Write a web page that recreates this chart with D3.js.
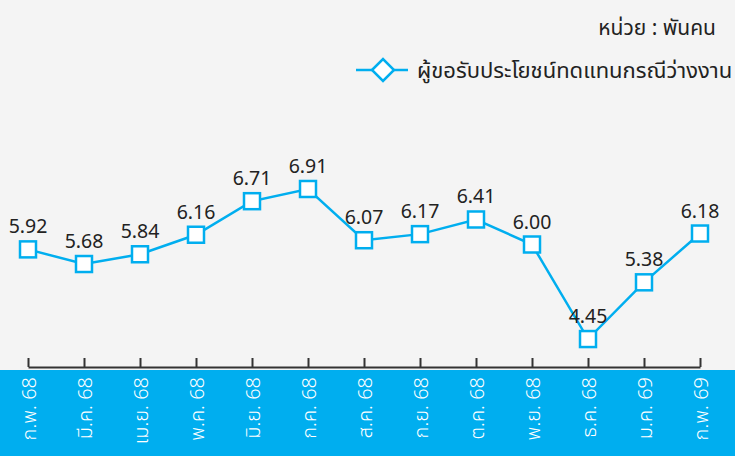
<!DOCTYPE html>
<html>
<head>
<meta charset="utf-8">
<script src="https://cdn.jsdelivr.net/npm/d3@7"></script>
<style>
  body { margin: 0; background: #f4f4f4; }
  #chart { width: 735px; height: 456px; }
</style>
</head>
<body>
<div id="chart"></div>
<script>
// data
var months = ["ก.พ. 68", "มี.ค. 68", "เม.ย. 68", "พ.ค. 68", "มิ.ย. 68", "ก.ค. 68", "ส.ค. 68",
  "ก.ย. 68", "ต.ค. 68", "พ.ย. 68", "ธ.ค. 68", "ม.ค. 69", "ก.พ. 69"];
var claimants = [5.92, 5.68, 5.84, 6.16, 6.71, 6.91, 6.07, 6.17, 6.41, 6.00, 4.45, 5.38, 6.18];
var seriesName = "ผู้ขอรับประโยชน์ทดแทนกรณีว่างงาน";
var unitLabel = "หน่วย : พันคน";

var width = 735;
var height = 456;
var blue = "#00aeef";
var font = "'Noto Sans Thai', 'Noto Sans', 'DejaVu Sans', sans-serif";

var svg = d3
  .select("#chart")
  .append("svg")
  .attr("width", width)
  .attr("height", height)
  .style("font-family", font);

svg.append("rect").attr("width", width).attr("height", height).attr("fill", "#f4f4f4");

// blue band under the axis
svg.append("rect")
  .attr("x", 0)
  .attr("y", 370)
  .attr("width", width)
  .attr("height", height - 370)
  .attr("fill", blue);

var xscale = d3.scalePoint().domain(months).range([28, 700]);
var yscale = d3.scaleLinear().domain([4, 7]).range([366.5, 183.5]);

// x axis
var xaxis = d3.axisBottom(xscale).tickSizeInner(-9).tickSizeOuter(0).tickPadding(12);

var gx = svg.append("g")
  .attr("transform", "translate(0,367)")
  .call(xaxis);

gx.select(".domain").attr("stroke", "#333").attr("stroke-width", 2);
gx.selectAll(".tick line").attr("stroke", "#333").attr("stroke-width", 2);
gx.selectAll(".tick text")
  .attr("fill", "#fff")
  .style("font-size", "20px")
  .style("font-weight", "300")
  .style("font-family", font)
  .attr("text-anchor", "end")
  .attr("transform", "rotate(-90)")
  .attr("x", -10)
  .attr("y", 0)
  .attr("dy", "0.35em");

// line
var line = d3.line()
  .x(function (d, i) { return xscale(months[i]); })
  .y(function (d) { return yscale(d); });

svg.append("path")
  .datum(claimants)
  .attr("d", line)
  .attr("fill", "none")
  .attr("stroke", blue)
  .attr("stroke-width", 2.5);

// markers
svg.selectAll(".marker")
  .data(claimants)
  .enter()
  .append("rect")
  .attr("class", "marker")
  .attr("x", function (d, i) { return xscale(months[i]) - 8; })
  .attr("y", function (d) { return yscale(d) - 8; })
  .attr("width", 16)
  .attr("height", 16)
  .attr("fill", "#fff")
  .attr("stroke", blue)
  .attr("stroke-width", 2.5);

// value labels
svg.selectAll(".dataLabel")
  .data(claimants)
  .enter()
  .append("text")
  .attr("class", "dataLabel")
  .attr("x", function (d, i) { return xscale(months[i]); })
  .attr("y", function (d) { return yscale(d) - 16; })
  .attr("text-anchor", "middle")
  .attr("fill", "#222")
  .style("font-size", "19.5px")
  .text(function (d) { return d.toFixed(2); });

// unit + legend
svg.append("text")
  .attr("x", 716)
  .attr("y", 35)
  .attr("text-anchor", "end")
  .attr("fill", "#222")
  .style("font-size", "21px")
  .text(unitLabel);

var legend = svg.append("g").attr("transform", "translate(383,70)");
legend.append("line")
  .attr("x1", -27).attr("x2", 25)
  .attr("stroke", blue).attr("stroke-width", 2.5);
legend.append("path")
  .attr("d", "M-11,0L0,-11L11,0L0,11Z")
  .attr("fill", "#fff")
  .attr("stroke", blue)
  .attr("stroke-width", 2.5);
legend.append("text")
  .attr("x", 34)
  .attr("y", 8)
  .attr("fill", "#222")
  .style("font-size", "22px")
  .text(seriesName);
</script>
</body>
</html>
